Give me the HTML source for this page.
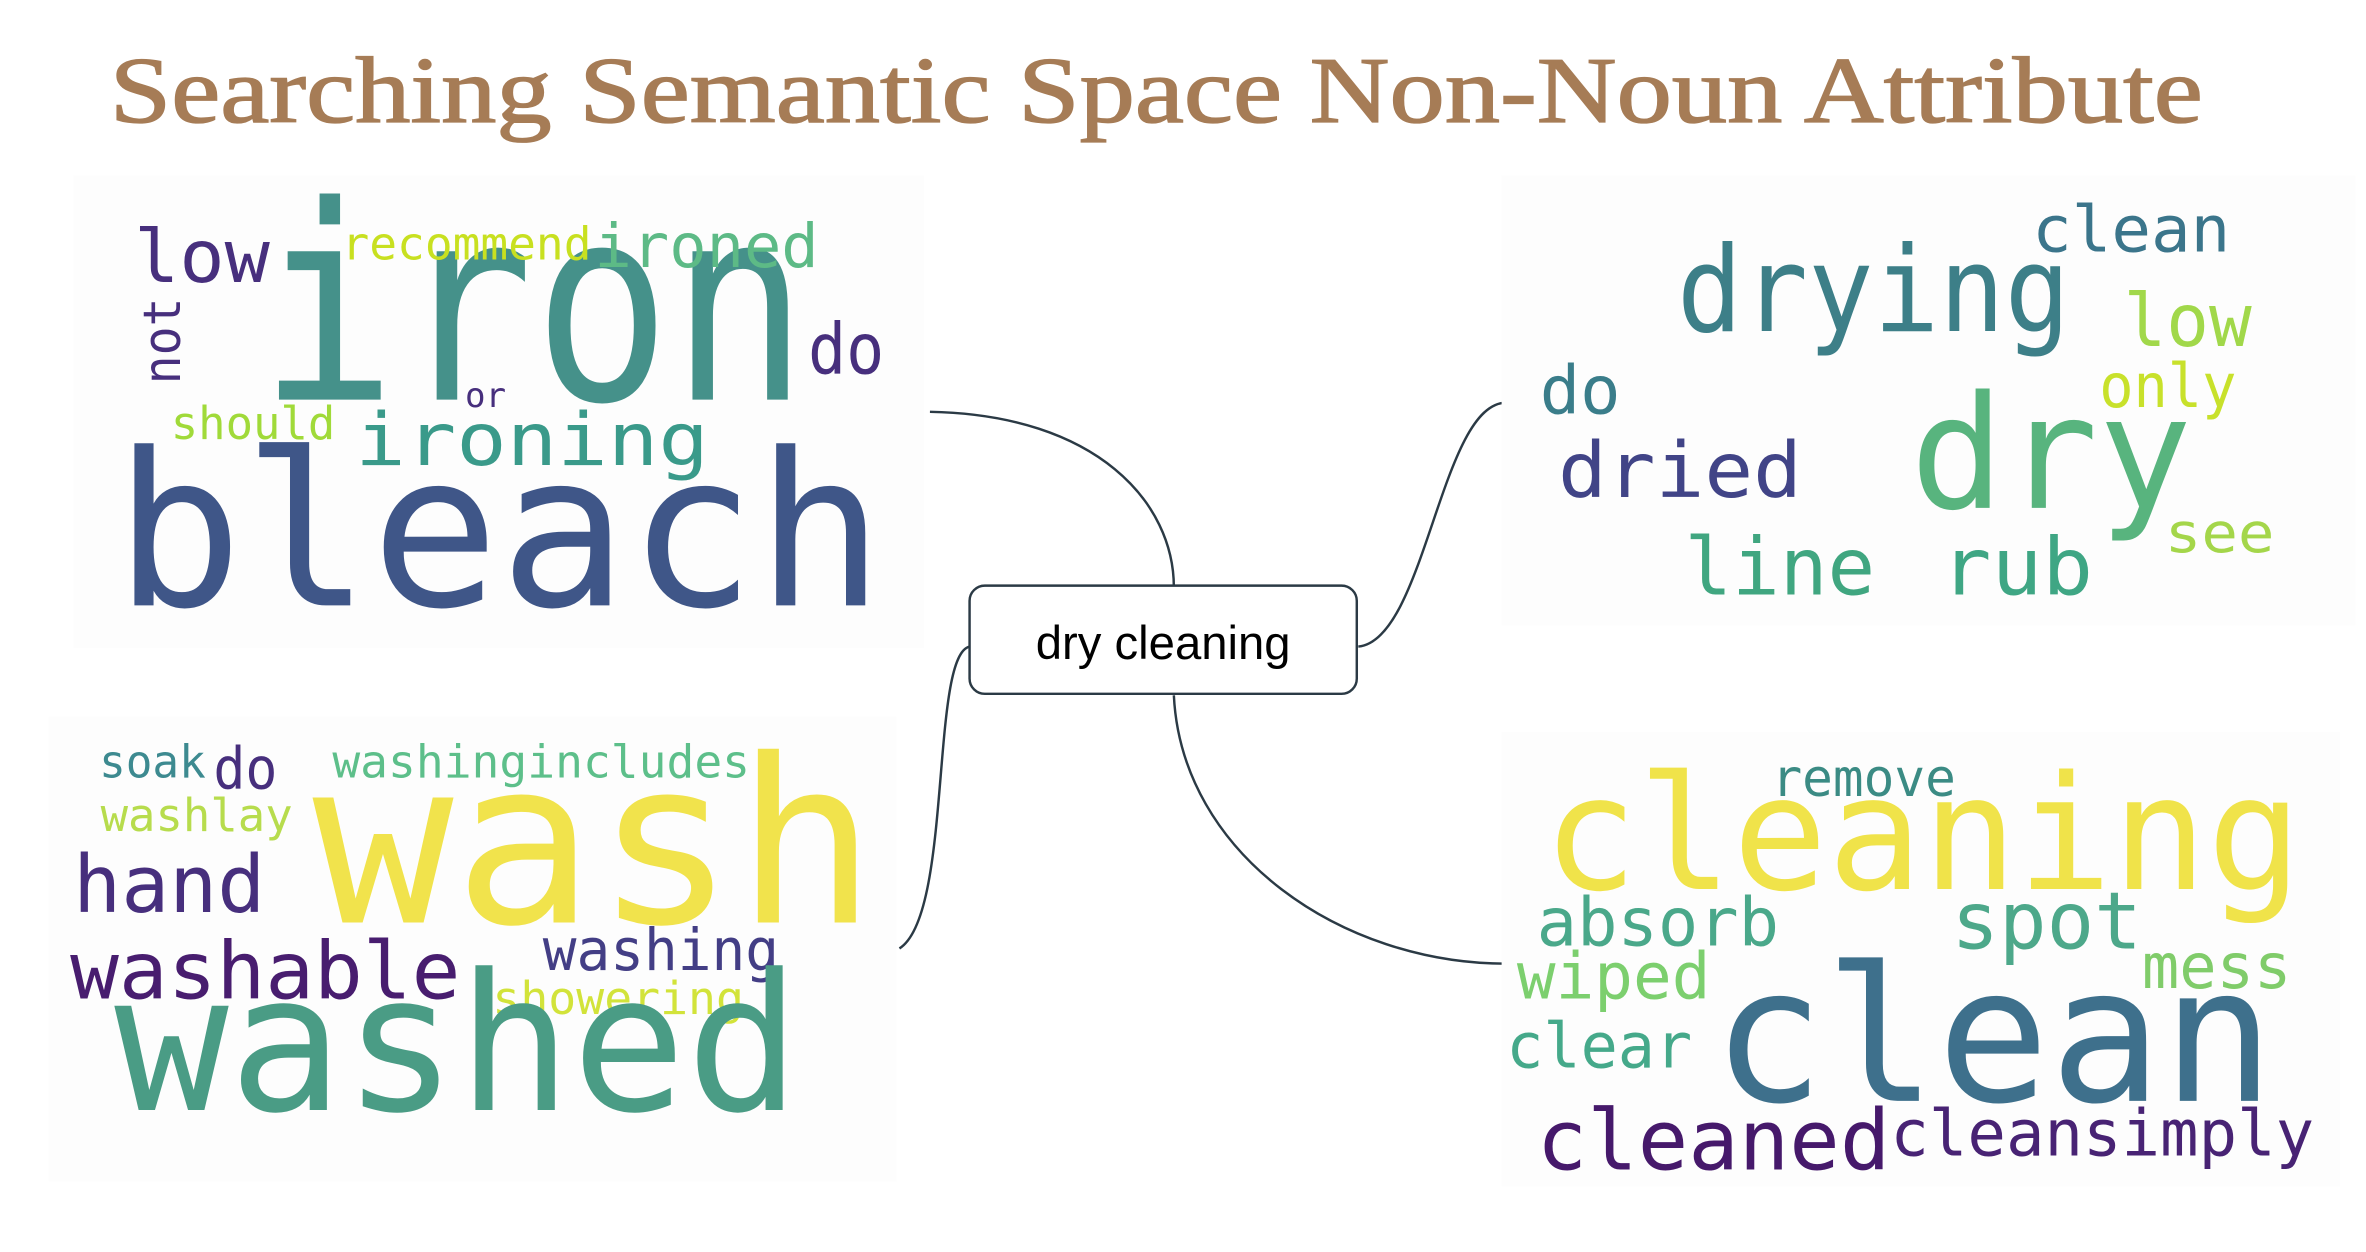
<!DOCTYPE html>
<html><head><meta charset="utf-8"><style>
html,body{margin:0;padding:0;background:#fff;}
svg{display:block;}
.w{font-family:"DejaVu Sans Mono","Liberation Mono",monospace;}
</style></head>
<body>
<svg width="2366" height="1252" viewBox="0 0 1552 821" xmlns="http://www.w3.org/2000/svg">
<rect width="1552" height="821" fill="#fff"/>
<text x="72" y="80" font-family="Liberation Serif, serif" font-size="62" fill="#a67c56" stroke="#a67c56" stroke-width="0.9" textLength="1373" lengthAdjust="spacingAndGlyphs">Searching Semantic Space Non-Noun Attribute</text>

<g fill="none" stroke="#2b3a45" stroke-width="1.6">
<path d="M610,270 C720,272 770,330 770,385"/>
<path d="M891,424 C935,420 945,264 988,264"/>
<path d="M636,424 C610,430 625,600 590,622"/>
<path d="M770,456 C775,560 880,632 988,632"/>
</g>

<g>
<rect x="636" y="384" width="254" height="71" rx="10" fill="#fff" stroke="#2b3a45" stroke-width="1.6"/>
<text x="763" y="432" text-anchor="middle" font-family="Liberation Sans, sans-serif" font-size="31" fill="#000">dry cleaning</text>
</g>

<g class="w">
<rect x="48" y="115" width="558" height="310" fill="#fdfdfd"/>
<text x="170" y="262" font-size="178" fill="#45918a" textLength="360" lengthAdjust="spacingAndGlyphs">iron</text>
<text x="75" y="397" font-size="140" fill="#3f5688" textLength="505" lengthAdjust="spacingAndGlyphs">bleach</text>
<text x="88" y="185" font-size="48" fill="#472f7d" textLength="89" lengthAdjust="spacingAndGlyphs">low</text>
<text x="224" y="170" font-size="30" fill="#c8e020" textLength="164" lengthAdjust="spacingAndGlyphs">recommend</text>
<text x="390" y="175" font-size="40" fill="#5dba86" textLength="147" lengthAdjust="spacingAndGlyphs">ironed</text>
<text transform="translate(118,252) rotate(-90)" font-size="34" fill="#472f7d" textLength="57" lengthAdjust="spacingAndGlyphs">not</text>
<text x="530" y="245" font-size="46" fill="#472f7d" textLength="50" lengthAdjust="spacingAndGlyphs">do</text>
<text x="305" y="267" font-size="22" fill="#472f7d" textLength="27" lengthAdjust="spacingAndGlyphs">or</text>
<text x="112" y="288" font-size="30" fill="#a0da39" textLength="108" lengthAdjust="spacingAndGlyphs">should</text>
<text x="233" y="305" font-size="48" fill="#3a9a8a" textLength="232" lengthAdjust="spacingAndGlyphs">ironing</text>
</g>

<g class="w">
<rect x="985" y="115" width="560" height="295" fill="#fdfdfd"/>
<text x="1333" y="165" font-size="42" fill="#3b758b" textLength="130" lengthAdjust="spacingAndGlyphs">clean</text>
<text x="1100" y="217" font-size="78" fill="#3d7f88" textLength="258" lengthAdjust="spacingAndGlyphs">drying</text>
<text x="1393" y="227" font-size="48" fill="#a1d84a" textLength="84" lengthAdjust="spacingAndGlyphs">low</text>
<text x="1010" y="271" font-size="44" fill="#3a7d8a" textLength="53" lengthAdjust="spacingAndGlyphs">do</text>
<text x="1377" y="267" font-size="40" fill="#c8e12b" textLength="90" lengthAdjust="spacingAndGlyphs">only</text>
<text x="1253" y="333" font-size="103" fill="#58b47e" textLength="185" lengthAdjust="spacingAndGlyphs">dry</text>
<text x="1022" y="326" font-size="50" fill="#414487" textLength="160" lengthAdjust="spacingAndGlyphs">dried</text>
<text x="1420" y="362" font-size="36" fill="#a4d64a" textLength="72" lengthAdjust="spacingAndGlyphs">see</text>
<text x="1105" y="390" font-size="52" fill="#40a680" textLength="125" lengthAdjust="spacingAndGlyphs">line</text>
<text x="1273" y="390" font-size="52" fill="#3fa684" textLength="100" lengthAdjust="spacingAndGlyphs">rub</text>
</g>

<g class="w">
<rect x="32" y="470" width="556" height="305" fill="#fdfdfd"/>
<text x="65" y="510" font-size="30" fill="#3d8a90" textLength="70" lengthAdjust="spacingAndGlyphs">soak</text>
<text x="140" y="517" font-size="38" fill="#472f7d" textLength="42" lengthAdjust="spacingAndGlyphs">do</text>
<text x="218" y="510" font-size="30" fill="#5dbf8a" textLength="274" lengthAdjust="spacingAndGlyphs">washingincludes</text>
<text x="66" y="545" font-size="30" fill="#b7dc4d" textLength="126" lengthAdjust="spacingAndGlyphs">washlay</text>
<text x="205" y="605" font-size="150" fill="#f1e34c" textLength="370" lengthAdjust="spacingAndGlyphs">wash</text>
<text x="48" y="598" font-size="52" fill="#472f7d" textLength="126" lengthAdjust="spacingAndGlyphs">hand</text>
<text x="46" y="655" font-size="52" fill="#481d6f" textLength="256" lengthAdjust="spacingAndGlyphs">washable</text>
<text x="356" y="636" font-size="38" fill="#433e85" textLength="155" lengthAdjust="spacingAndGlyphs">washing</text>
<text x="323" y="665" font-size="30" fill="#d2e33a" textLength="165" lengthAdjust="spacingAndGlyphs">showering</text>
<text x="75" y="728" font-size="125" fill="#4a9c85" textLength="450" lengthAdjust="spacingAndGlyphs">washed</text>
</g>

<g class="w">
<rect x="985" y="480" width="550" height="298" fill="#fdfdfd"/>
<text x="1162" y="522" font-size="34" fill="#3b8b84" textLength="121" lengthAdjust="spacingAndGlyphs">remove</text>
<text x="1012" y="583" font-size="104" fill="#f0e34a" textLength="498" lengthAdjust="spacingAndGlyphs">cleaning</text>
<text x="1008" y="620" font-size="44" fill="#4aa88a" textLength="159" lengthAdjust="spacingAndGlyphs">absorb</text>
<text x="1280" y="622" font-size="52" fill="#4da88a" textLength="125" lengthAdjust="spacingAndGlyphs">spot</text>
<text x="1405" y="648" font-size="41" fill="#80cc6a" textLength="98" lengthAdjust="spacingAndGlyphs">mess</text>
<text x="995" y="655" font-size="42" fill="#7ccf6e" textLength="127" lengthAdjust="spacingAndGlyphs">wiped</text>
<text x="1123" y="722" font-size="123" fill="#3e708c" textLength="369" lengthAdjust="spacingAndGlyphs">clean</text>
<text x="988" y="700" font-size="41" fill="#45a98a" textLength="122" lengthAdjust="spacingAndGlyphs">clear</text>
<text x="1008" y="767" font-size="55" fill="#46196b" textLength="232" lengthAdjust="spacingAndGlyphs">cleaned</text>
<text x="1240" y="758" font-size="42" fill="#482374" textLength="278" lengthAdjust="spacingAndGlyphs">cleansimply</text>
</g>
</svg>
</body></html>
